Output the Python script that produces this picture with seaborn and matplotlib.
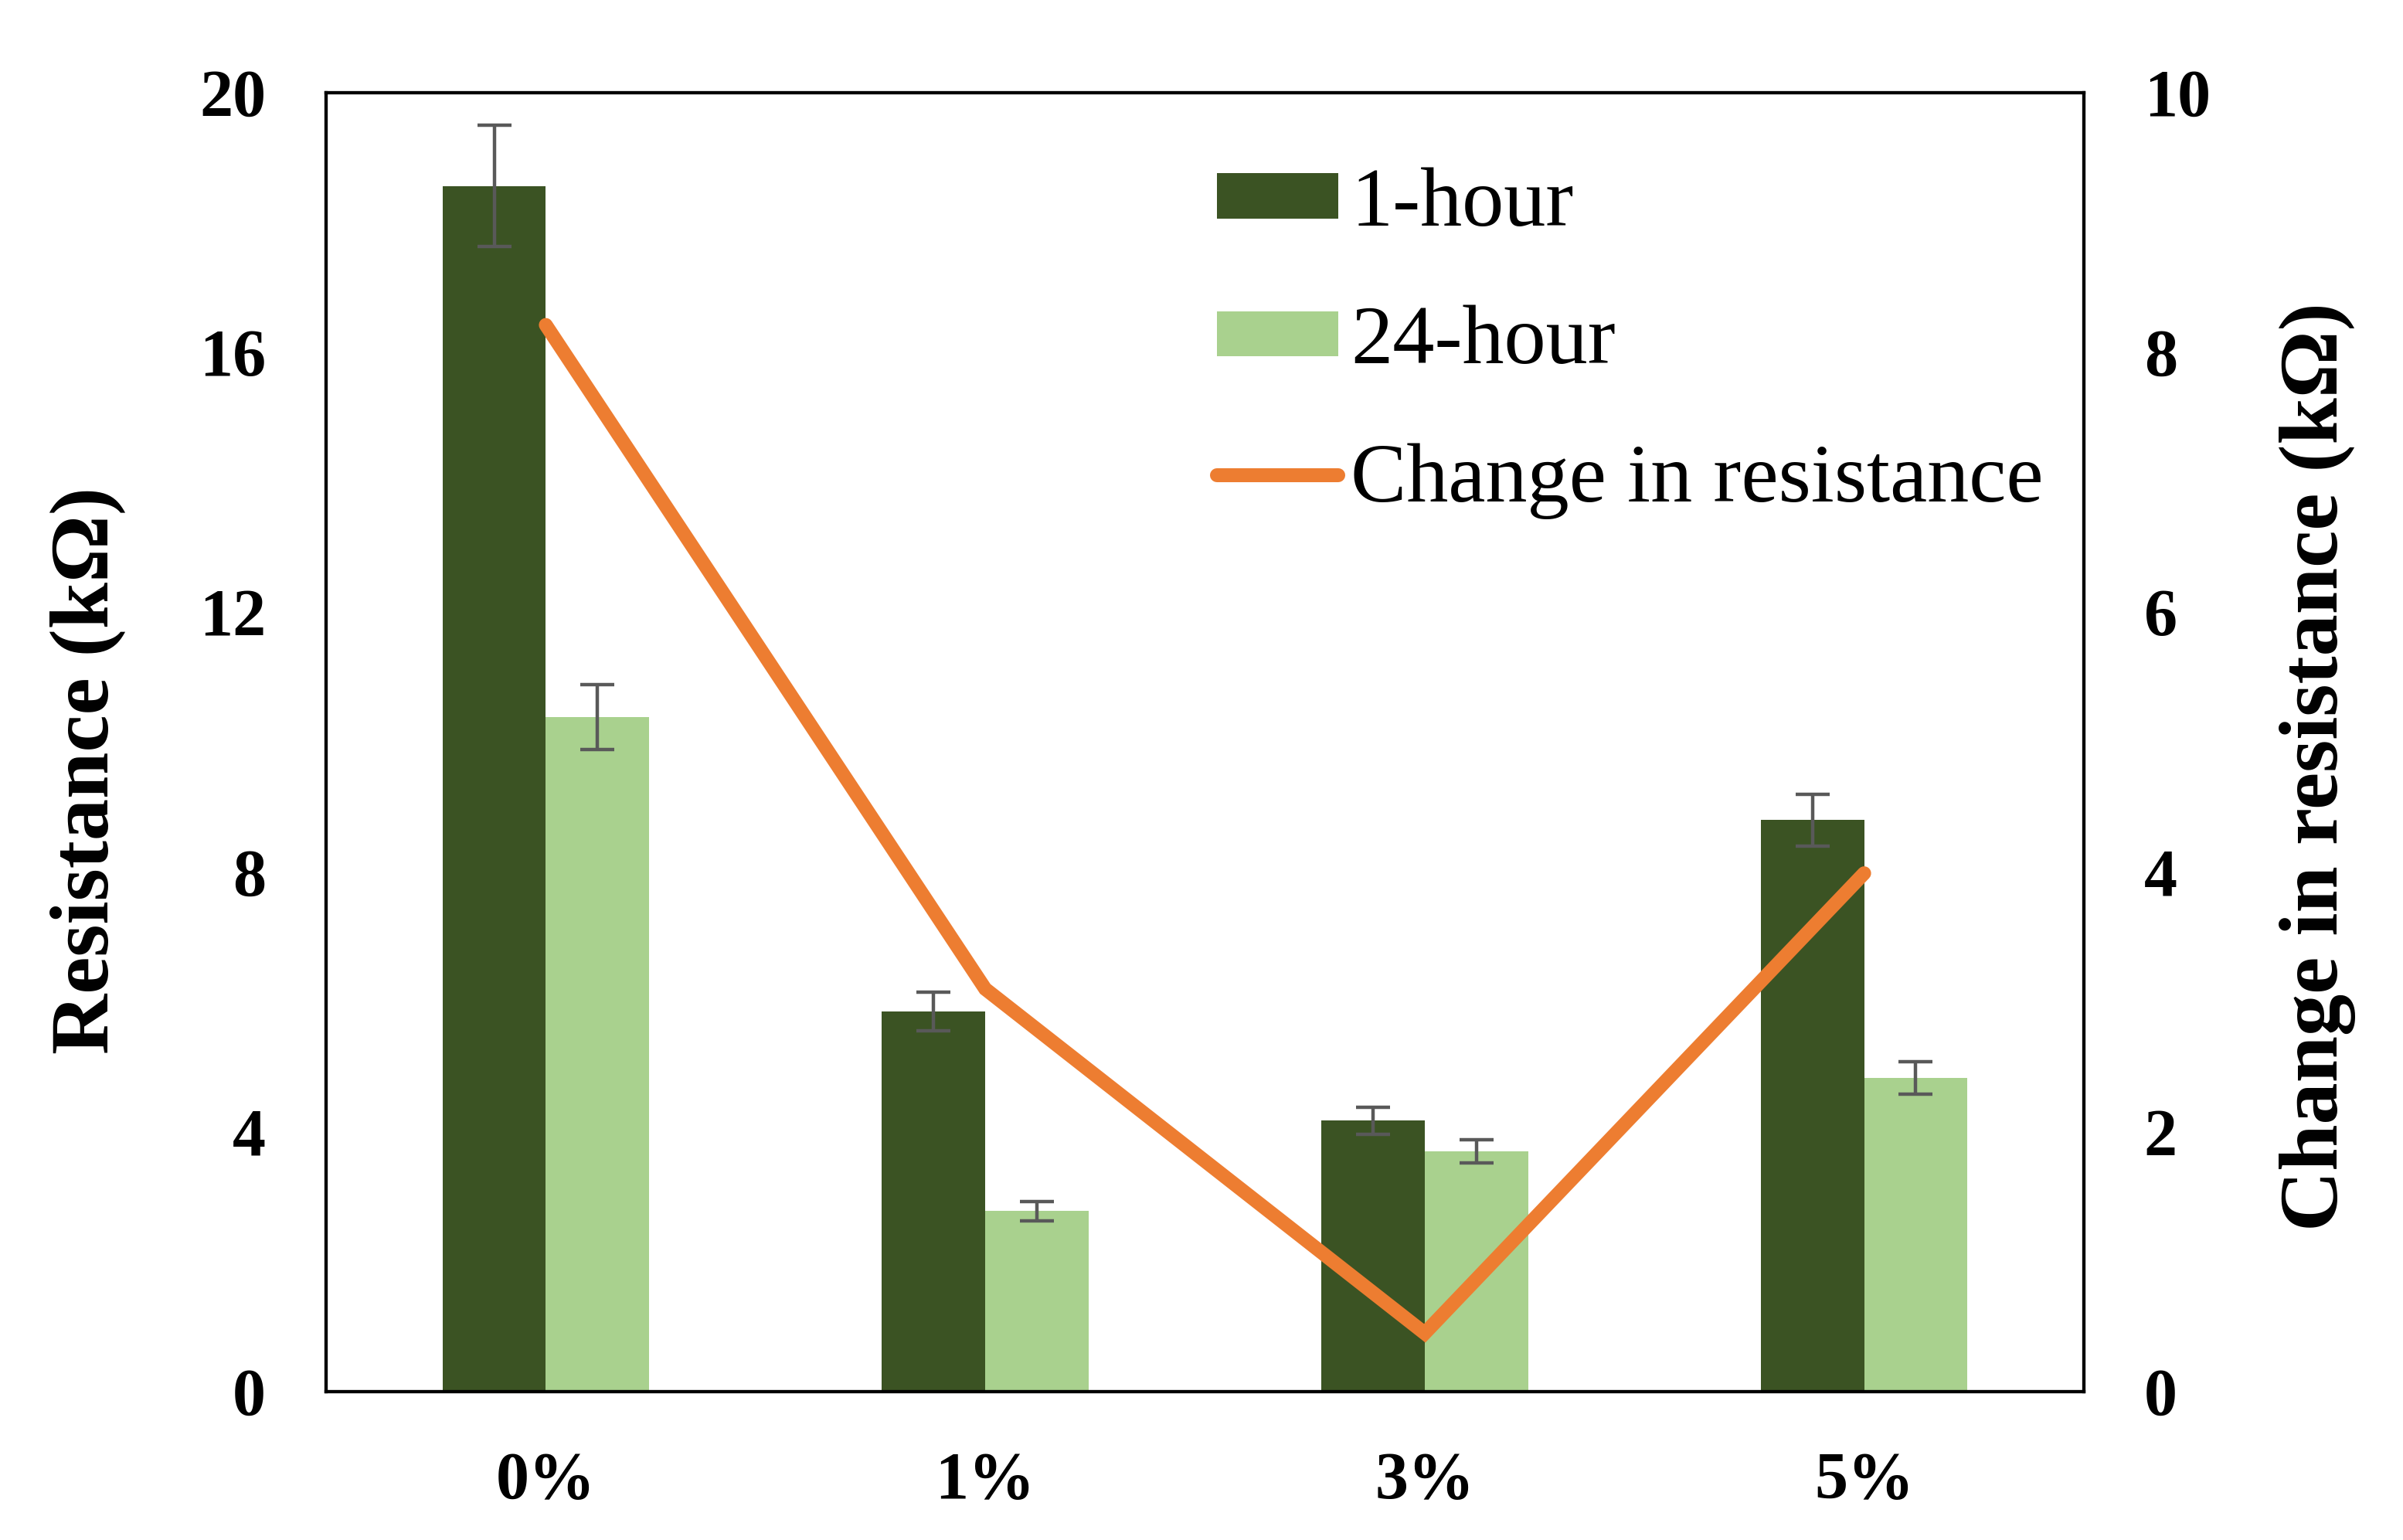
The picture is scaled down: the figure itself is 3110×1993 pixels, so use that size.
import numpy as np
import pandas as pd
import matplotlib
matplotlib.use("Agg")
import matplotlib.pyplot as plt
import seaborn as sns

# datos
concentracion = ["0%", "1%", "3%", "5%"]
res_1h = [18.56, 5.85, 4.17, 8.80]
err_1h = [0.93, 0.30, 0.21, 0.40]
res_24h = [10.38, 2.78, 3.70, 4.83]
err_24h = [0.50, 0.15, 0.18, 0.25]
cambio = [8.21, 3.10, 0.45, 3.99]
series = ["1-hour", "24-hour"]
colores = ["#3B5323", "#A9D18E"]

sns.set_style("white")
plt.rcParams['font.family'] = ['Liberation Serif', 'DejaVu Serif']
plt.rcParams['text.color'] = 'black'
plt.rcParams['axes.labelcolor'] = 'black'
plt.rcParams['xtick.color'] = 'black'
plt.rcParams['ytick.color'] = 'black'

df = pd.DataFrame({
    "Concentracion": concentracion * 2,
    "Serie": [series[0]] * 4 + [series[1]] * 4,
    "Resistencia": res_1h + res_24h,
})

fig = plt.figure(figsize=(15.55, 9.965), dpi=200)
ax = fig.add_axes([0.1357, 0.0963, 0.7315, 0.8437])

sns.barplot(data=df, x="Concentracion", y="Resistencia", hue="Serie",
            palette=colores, width=0.47, errorbar=None, saturation=1,
            linewidth=0, ax=ax)

# barras de error
for cont, errs in zip(ax.containers, [err_1h, err_24h]):
    xs = [p.get_x() + p.get_width() / 2 for p in cont]
    ys = [p.get_height() for p in cont]
    ax.errorbar(xs, ys, yerr=errs, fmt="none", ecolor="#595959",
                elinewidth=1.6, capsize=8, capthick=1.6, zorder=5)

ax.set_ylim(0, 20)
ax.set_yticks([0, 4, 8, 12, 16, 20])
ax.set_xlim(-0.5, 3.5)
ax.set_xlabel("")
ax.set_ylabel("Resistance (kΩ)", fontsize=39, fontweight="bold")
ax.yaxis.set_label_coords(-0.114, 0.478)
ax.tick_params(axis="both", length=0, labelsize=31)
ax.tick_params(axis="y", pad=28)
ax.tick_params(axis="x", pad=28)
for t in ax.get_xticklabels() + ax.get_yticklabels():
    t.set_fontweight("bold")

# eje secundario
ax2 = ax.twinx()
pos = list(range(len(concentracion)))
sns.lineplot(x=pos, y=cambio, color="#ED7D31", linewidth=6.5,
             solid_capstyle="round", solid_joinstyle="miter",
             label="Change in resistance", ax=ax2)
ax2.set_ylim(0, 10)
ax2.set_yticks([0, 2, 4, 6, 8, 10])
ax2.set_ylabel("Change in resistance (kΩ)", fontsize=39, fontweight="bold")
ax2.yaxis.set_label_coords(1.111, 0.481)
ax2.tick_params(axis="y", length=0, labelsize=31, pad=28)
for t in ax2.get_yticklabels():
    t.set_fontweight("bold")

for a in (ax, ax2):
    for s in a.spines.values():
        s.set_color("black")
        s.set_linewidth(1.5)

# leyenda combinada
h1, l1 = ax.get_legend_handles_labels()
h2, l2 = ax2.get_legend_handles_labels()
if ax.get_legend():
    ax.get_legend().remove()
if ax2.get_legend():
    ax2.get_legend().remove()
ax2.legend(h1 + h2, l1 + l2, loc="upper left", bbox_to_anchor=(0.464, 1.0),
           frameon=False, fontsize=39, handlelength=1.45, handleheight=0.45,
           handletextpad=0.15, labelspacing=0.74)

fig.savefig("out.png", dpi=200)
